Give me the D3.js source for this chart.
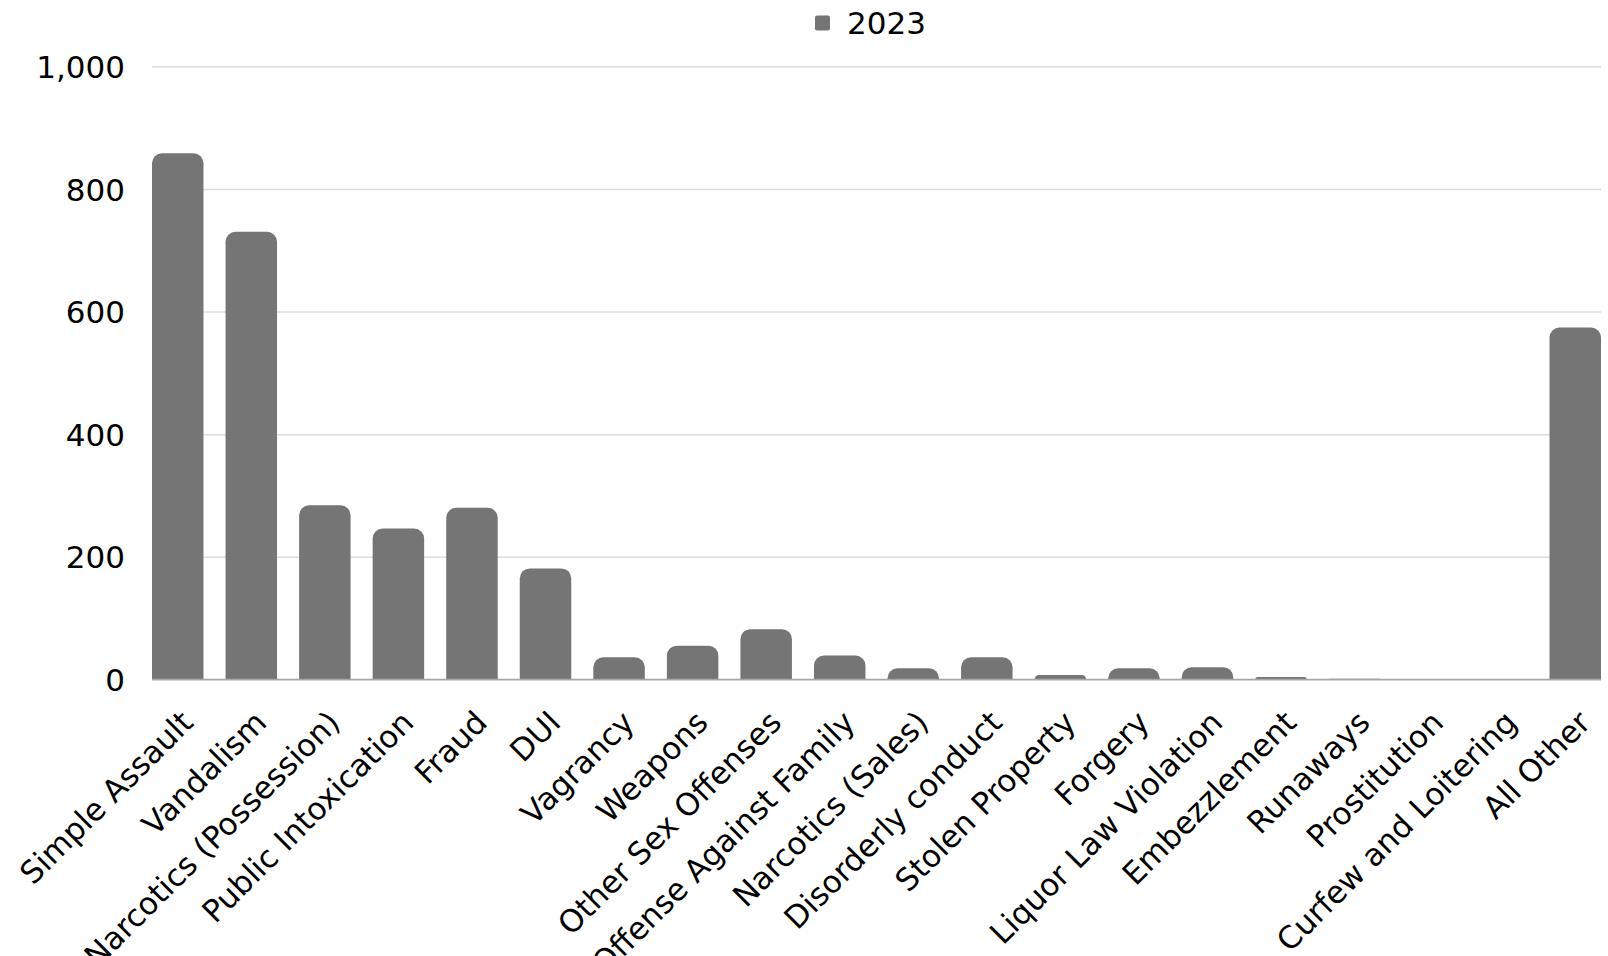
<!DOCTYPE html>
<html><head><meta charset="utf-8">
<script src="https://cdn.jsdelivr.net/npm/d3@7"></script>
<style>
html,body{margin:0;padding:0;background:#fff;}
svg{display:block;}
text{font-family:"DejaVu Sans",sans-serif;fill:#000;}
</style></head>
<body>
<svg id="chart" width="1608" height="956"></svg>
<script>
const categories = ["Simple Assault","Vandalism","Narcotics (Possession)","Public Intoxication","Fraud","DUI","Vagrancy","Weapons","Other Sex Offenses","Offense Against Family","Narcotics (Sales)","Disorderly conduct","Stolen Property","Forgery","Liquor Law Violation","Embezzlement","Runaways","Prostitution","Curfew and Loitering","All Other"];
const values2023 = [858,730,284,246,280,181,36,55,82,39,18,36,7,18,20,4,1,0,0,574];
const yTicks = [0,200,400,600,800,1000];
const seriesName = "2023";

(function(){
const svg = d3.select("#chart");
const mLeft = 152, mRight = 1601, mTop = 66.3, mBottom = 679.4;
const barColor = "#757575";

const x = d3.scaleBand().domain(categories).range([mLeft, mRight]).paddingInner(0.3).paddingOuter(0);
const y = d3.scaleLinear().domain([0, 1000]).range([mBottom, mTop]);

const yAxis = d3.axisLeft(y).tickValues(yTicks).tickFormat(d3.format(",")).tickSize(-(mRight - mLeft)).tickPadding(27);
const gy = svg.append("g").attr("transform", `translate(${mLeft},0)`).call(yAxis);
gy.select(".domain").remove();
gy.selectAll(".tick line").attr("stroke", "#dcdcdc").attr("stroke-width", 1.5);
gy.selectAll(".tick text").attr("font-size", 31).attr("fill", "#000").attr("font-family", '"DejaVu Sans",sans-serif').attr("dy", "0.36em");

function topRounded(x0, y0, w, h, r) {
  r = Math.min(r, h, w / 2);
  return `M${x0},${y0 + h}V${y0 + r}A${r},${r} 0 0 1 ${x0 + r},${y0}H${x0 + w - r}A${r},${r} 0 0 1 ${x0 + w},${y0 + r}V${y0 + h}Z`;
}
svg.append("g").selectAll("path").data(categories.map((c, i) => ({c, v: values2023[i]})).filter(d => d.v > 0))
  .join("path")
  .attr("d", d => topRounded(x(d.c), y(d.v), x.bandwidth(), y(0) - y(d.v), 10))
  .attr("fill", barColor);

svg.append("line").attr("x1", mLeft).attr("x2", mRight).attr("y1", y(0)).attr("y2", y(0))
  .attr("stroke", "#a6a6a6").attr("stroke-width", 1.5);

const xAxis = d3.axisBottom(x).tickSize(0).tickPadding(0);
const gx = svg.append("g").attr("transform", `translate(0,${mBottom})`).call(xAxis);
gx.select(".domain").remove();
gx.selectAll(".tick text")
  .attr("font-size", 31)
  .attr("fill", "#000")
  .attr("font-family", '"DejaVu Sans",sans-serif')
  .attr("text-anchor", "end")
  .attr("dy", null)
  .attr("y", 0)
  .attr("transform", "translate(17,45) rotate(-45)");

const lg = svg.append("g");
lg.append("rect").attr("x", 815).attr("y", 15.5).attr("width", 15).attr("height", 15).attr("rx", 2).attr("fill", barColor);
lg.append("text").attr("x", 847).attr("y", 23).attr("dy", "0.36em").attr("font-size", 31).text(seriesName);
})();
</script>
</body></html>
